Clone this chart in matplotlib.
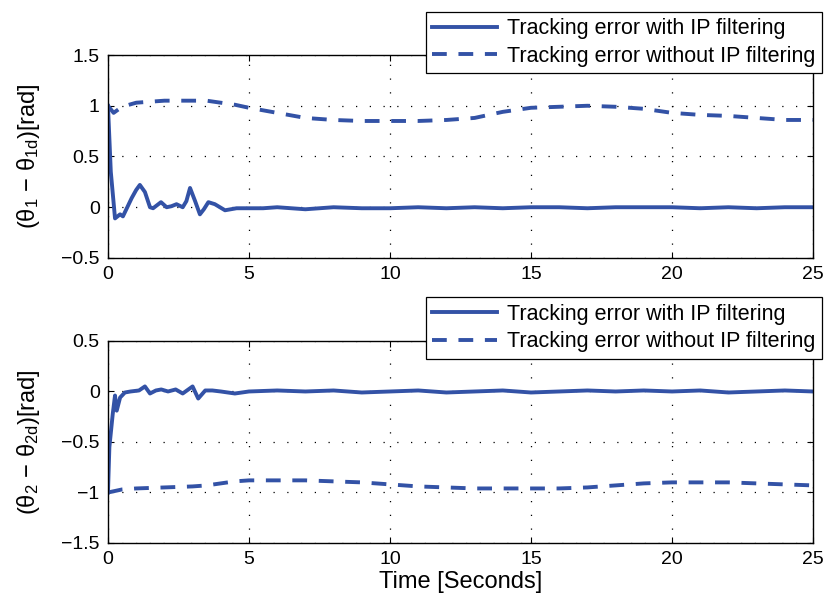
import matplotlib
matplotlib.use("Agg")
import matplotlib.pyplot as plt

plt.rcParams['font.family'] = ['Liberation Sans', 'DejaVu Sans']
plt.rcParams['mathtext.default'] = 'regular'

# top panel: joint 1 error
t1_with = [0, 0.1, 0.25, 0.43, 0.53, 0.84, 1.0, 1.13, 1.31, 1.49, 1.6, 1.88, 2.08, 2.25, 2.43, 2.65, 2.78, 2.91, 3.09, 3.26, 3.4, 3.56, 3.79, 4.15, 4.56, 4.9, 5.5, 6, 6.5, 7, 7.5, 8, 9, 10, 11, 12, 13, 14, 15, 16, 17, 18, 19, 20, 21, 22, 23, 24, 25]
e1_with = [1.0, 0.35, -0.11, -0.07, -0.09, 0.09, 0.17, 0.22, 0.15, 0.0, -0.01, 0.05, 0.0, 0.01, 0.03, 0.0, 0.06, 0.19, 0.06, -0.07, -0.02, 0.05, 0.03, -0.03, -0.01, -0.01, -0.01, 0.0, -0.01, -0.02, -0.01, 0.0, -0.01, -0.01, 0.0, -0.01, 0.0, -0.01, 0.0, 0.0, -0.01, 0.0, 0.0, 0.0, -0.01, 0.0, -0.01, 0.0, 0.0]
t1_without = [0, 0.2, 0.5, 1.0, 1.5, 2, 2.5, 3, 3.5, 4, 4.5, 5, 6, 7, 8, 9, 10, 11, 12, 13, 14, 15, 16, 17, 18, 19, 20, 21, 22, 23, 24, 25]
e1_without = [1.0, 0.93, 0.99, 1.03, 1.04, 1.05, 1.05, 1.05, 1.05, 1.03, 1.01, 0.98, 0.93, 0.88, 0.86, 0.85, 0.85, 0.85, 0.86, 0.88, 0.94, 0.98, 0.99, 1.0, 0.99, 0.97, 0.93, 0.91, 0.9, 0.88, 0.86, 0.86]

# bottom panel: joint 2 error
t2_with = [0, 0.05, 0.17, 0.25, 0.31, 0.43, 0.6, 0.8, 1.1, 1.31, 1.49, 1.7, 1.89, 2.13, 2.4, 2.65, 2.85, 3.0, 3.2, 3.45, 3.7, 4.0, 4.5, 5, 6, 7, 8, 9, 10, 11, 12, 13, 14, 15, 16, 17, 18, 19, 20, 21, 22, 23, 24, 25]
e2_with = [-1.0, -0.55, -0.22, -0.04, -0.19, -0.06, -0.01, 0.0, 0.01, 0.05, -0.02, 0.01, 0.02, 0.0, 0.02, -0.02, 0.02, 0.05, -0.07, 0.01, 0.01, 0.0, -0.02, 0.0, 0.01, 0.0, 0.01, -0.01, 0.0, 0.01, -0.01, 0.0, 0.01, -0.01, 0.0, 0.01, 0.0, 0.01, 0.0, 0.01, -0.01, 0.0, 0.01, 0.0]
t2_without = [0, 0.5, 1, 2, 3, 3.5, 4, 4.5, 5, 6, 7, 8, 9, 10, 11, 12, 13, 14, 15, 16, 17, 18, 19, 20, 21, 22, 23, 24, 25]
e2_without = [-1.0, -0.97, -0.96, -0.95, -0.94, -0.93, -0.91, -0.89, -0.88, -0.88, -0.88, -0.89, -0.9, -0.92, -0.94, -0.95, -0.96, -0.96, -0.96, -0.96, -0.95, -0.93, -0.91, -0.9, -0.9, -0.9, -0.91, -0.92, -0.93]

labels = ['Tracking error with IP filtering', 'Tracking error without IP filtering']
blue = '#3352a6'

fig = plt.figure(figsize=(8.28, 5.98), dpi=100)
ax1 = fig.add_axes([0.1304, 0.5686, 0.8515, 0.3394])
ax2 = fig.add_axes([0.1304, 0.0920, 0.8515, 0.3378])

panels = [
    (ax1, t1_with, e1_with, t1_without, e1_without, (-0.5, 1.5), [-0.5, 0, 0.5, 1, 1.5], '(θ$_1$ − θ$_{1d}$)[rad]', 0.98),
    (ax2, t2_with, e2_with, t2_without, e2_without, (-1.5, 0.5), [-1.5, -1, -0.5, 0, 0.5], '(θ$_2$ − θ$_{2d}$)[rad]', 0.503),
]
for ax, tw, ew, two, ewo, ylim, yt, ylab, leg_y in panels:
    ax.plot(tw, ew, color=blue, lw=2.8, label=labels[0], solid_joinstyle='round')
    ax.plot(two, ewo, color=blue, lw=2.8, ls=(0, (3.8, 3.0)), label=labels[1])
    ax.set_xlim(0, 25)
    ax.set_ylim(*ylim)
    ax.set_yticks(yt)
    ax.set_yticklabels([('%g' % v).replace('-', '−') for v in yt])
    ax.set_xticks([0, 5, 10, 15, 20, 25])
    ax.tick_params(direction='in', labelsize=14, length=4, pad=6, top=True, right=True)
    ax.grid(True, color='black', ls=(0, (1, 10)), lw=0.9)
    ax.set_ylabel(ylab, fontsize=17, labelpad=14)
    for s in ax.spines.values():
        s.set_linewidth(1.0)
    leg = ax.legend(loc='upper right', bbox_to_anchor=(0.993, leg_y), bbox_transform=fig.transFigure,
                    fontsize=15.5, frameon=True, fancybox=False, handlelength=3.0,
                    borderpad=0.3, labelspacing=0.3, handletextpad=0.5, borderaxespad=0)
    leg.get_frame().set_edgecolor('black')
    leg.get_frame().set_linewidth(0.9)
    leg.get_frame().set_alpha(1)

ax2.set_xlabel('Time [Seconds]', fontsize=17, labelpad=2)

fig.savefig('out.png', dpi=100)
